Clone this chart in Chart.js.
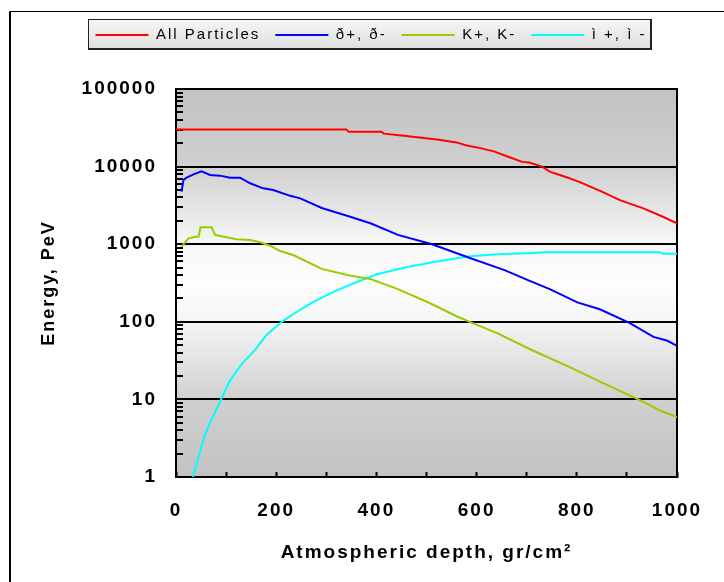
<!DOCTYPE html>
<html>
<head>
<meta charset="utf-8">
<script src="https://cdn.jsdelivr.net/npm/chart.js@4/dist/chart.umd.min.js"></script>
<style>
  html, body { margin: 0; padding: 0; background: #fff; }
  canvas { display: block; }
</style>
</head>
<body>
<canvas id="energyChart" width="724" height="582"></canvas>
<script>
// values (depth in gr/cm2, energy in PeV)
const redDepth = [0, 100, 200, 300, 340, 345, 410, 415, 455, 490, 525, 560, 580, 608, 636, 663, 691, 705, 731, 746, 781, 806, 850, 886, 933, 972, 1000];
const redEnergy = [30000, 30000, 30000, 30000, 30000, 28200, 28200, 26600, 25000, 23600, 22200, 20500, 18700, 17300, 15600, 13400, 11500, 11300, 10000, 8600, 7250, 6300, 4750, 3700, 2900, 2260, 1860];

const piDepth = [11, 15, 21, 35, 51, 68, 88, 108, 128, 148, 174, 194, 228, 248, 291, 346, 388, 443, 511, 588, 657, 700, 746, 801, 846, 906, 953, 981, 1000];
const piEnergy = [4750, 6700, 7200, 7950, 8700, 7800, 7650, 7200, 7200, 6100, 5250, 5000, 4200, 3900, 2930, 2280, 1860, 1320, 1000, 660, 460, 350, 264, 178, 145, 96, 64, 57, 49];

const kDepth = [11, 25, 38, 45, 49, 71, 78, 101, 121, 148, 168, 188, 208, 234, 291, 346, 388, 443, 505, 560, 591, 642, 711, 786, 846, 926, 966, 1000];
const kEnergy = [930, 1190, 1250, 1250, 1650, 1650, 1315, 1230, 1157, 1133, 1057, 956, 816, 725, 481, 394, 356, 264, 176, 118, 97, 71, 43, 26, 16.9, 9.8, 7.2, 5.9];

const muDepth = [34, 43, 56, 70, 90, 108, 132, 160, 180, 211, 249, 277, 312, 353, 401, 457, 512, 560, 587, 650, 700, 739, 965, 972, 1000];
const muEnergy = [1, 1.63, 3.26, 5.35, 10, 17.6, 28.9, 45, 67, 100, 145, 185, 240, 310, 410, 500, 585, 660, 700, 745, 765, 790, 790, 755, 755];

const seriesNames = ['All Particles', 'ð+, ð-', 'K+, K-', 'ì +, ì -'];
const seriesColors = ['#ff0000', '#0000ff', '#99cc00', '#00ffff'];

const decades = [1, 10, 100, 1000, 10000, 100000];
const minorSteps = [1, 2, 3, 4, 5, 6, 7, 8, 9];
const xLabelStep = 200;

function toPoints(xs, ys) {
  return xs.map((x, i) => ({x: x, y: ys[i]}));
}

function isDecade(v) {
  return decades.indexOf(v) !== -1;
}

const ctxEl = document.getElementById('energyChart');

// frame, legend box, grey-white-grey plot fill, letter spacing of the text
const decor = {
  id: 'decor',
  beforeUpdate(chart) {
    chart.ctx.letterSpacing = '2px';
  },
  afterLayout(chart) {
    chart.legend.left = 65;
  },
  beforeDraw(chart) {
    const ctx = chart.ctx;
    const a = chart.chartArea;
    ctx.letterSpacing = '2px';
    ctx.save();
    ctx.fillStyle = '#000';
    ctx.fillRect(9, 11, 2, 571);
    ctx.fillRect(9, 11, 715, 1);

    const hb = chart.legend.legendHitBoxes;
    if (hb && hb.length) {
      const last = hb[hb.length - 1];
      const lx = Math.round(hb[0].left - 8);
      const rx = Math.round(last.left + last.width + 6);
      const lg = ctx.createLinearGradient(0, 19, 0, 50);
      lg.addColorStop(0, '#f6f6f6');
      lg.addColorStop(1, '#dedede');
      ctx.fillStyle = lg;
      ctx.fillRect(lx, 19, rx - lx, 31);
      ctx.strokeStyle = '#222';
      ctx.lineWidth = 1;
      ctx.strokeRect(lx + 0.5, 19.5, rx - lx - 1, 30);
      ctx.fillStyle = '#222';
      ctx.fillRect(rx - 2, 19, 2, 31);
      ctx.fillRect(lx, 48, rx - lx, 2);
    }

    const g = ctx.createLinearGradient(0, a.top, 0, a.bottom);
    g.addColorStop(0, '#c2c2c2');
    g.addColorStop(0.2, '#d0d0d0');
    g.addColorStop(0.4, '#f7f7f7');
    g.addColorStop(0.5, '#fdfdfd');
    g.addColorStop(0.6, '#f5f5f5');
    g.addColorStop(0.8, '#d0d0d0');
    g.addColorStop(1, '#c2c2c2');
    ctx.fillStyle = g;
    ctx.fillRect(a.left, a.top, a.right - a.left, a.bottom - a.top);
    ctx.restore();
  },
  beforeDatasetsDraw(chart) {
    const ctx = chart.ctx;
    const a = chart.chartArea;
    ctx.save();
    ctx.strokeStyle = '#000';
    ctx.lineWidth = 2;
    ctx.strokeRect(a.left, a.top, a.right - a.left, a.bottom - a.top);
    ctx.restore();
  }
};

const datasets = [
  toPoints(redDepth, redEnergy),
  toPoints(piDepth, piEnergy),
  toPoints(kDepth, kEnergy),
  toPoints(muDepth, muEnergy)
].map((pts, i) => ({
  label: seriesNames[i],
  data: pts,
  borderColor: seriesColors[i],
  backgroundColor: seriesColors[i],
  borderWidth: 2,
  pointRadius: 0,
  fill: false,
  tension: 0
}));

Chart.defaults.font.family = "'Liberation Sans', Arial, sans-serif";
Chart.defaults.color = '#000';

var energyChart = new Chart(ctxEl, {
  type: 'line',
  data: {datasets: datasets},
  options: {
    responsive: false,
    animation: false,
    layout: {padding: {left: 30, right: 47, top: 12.5, bottom: 0}},
    plugins: {
      legend: {
        position: 'top',
        labels: {
          usePointStyle: true,
          pointStyle: 'line',
          pointStyleWidth: 53,
          padding: 15,
          font: {size: 15},
          color: '#000'
        }
      },
      title: {
        display: true,
        text: '',
        weight: 500,
        font: {size: 10},
        padding: {top: 0, bottom: 24.5}
      },
      tooltip: {enabled: false}
    },
    scales: {
      x: {
        type: 'linear',
        min: 0,
        max: 1000,
        afterFit(scale) {
          scale.height = 105;
          scale.paddingLeft = 0;
          scale.paddingRight = 0;
        },
        ticks: {
          stepSize: 100,
          autoSkip: false,
          maxRotation: 0,
          minRotation: 0,
          padding: 27,
          font: {size: 19, weight: 'bold'},
          color: '#000',
          callback: (v) => (v % xLabelStep === 0 ? String(v) : '')
        },
        grid: {
          drawOnChartArea: false,
          tickLength: -5,
          tickWidth: 2,
          tickColor: '#000'
        },
        border: {display: true, color: '#000', width: 2},
        title: {
          display: true,
          text: 'Atmospheric depth, gr/cm²',
          font: {size: 19, weight: 'bold'},
          color: '#000',
          padding: {top: 0, bottom: 18}
        }
      },
      y: {
        type: 'logarithmic',
        min: 1,
        max: 100000,
        afterFit(scale) { scale.width = 146; },
        afterBuildTicks(scale) {
          const ticks = [];
          decades.slice(0, -1).forEach((d) => {
            minorSteps.forEach((m) => ticks.push({value: d * m}));
          });
          ticks.push({value: decades[decades.length - 1]});
          scale.ticks = ticks;
        },
        ticks: {
          autoSkip: false,
          padding: 26,
          font: {size: 19, weight: 'bold'},
          color: '#000',
          callback: (v) => (isDecade(v) ? String(v) : '')
        },
        grid: {
          color: (c) => (c.tick && isDecade(c.tick.value) ? '#000' : 'rgba(0,0,0,0)'),
          lineWidth: 2,
          tickLength: -7,
          tickWidth: 2,
          tickColor: '#000'
        },
        border: {display: true, color: '#000', width: 2},
        title: {
          display: true,
          text: 'Energy, PeV',
          font: {size: 18, weight: 'bold'},
          color: '#000',
          padding: {top: 8, bottom: 0}
        }
      }
    }
  },
  plugins: [decor]
});
</script>
</body>
</html>
